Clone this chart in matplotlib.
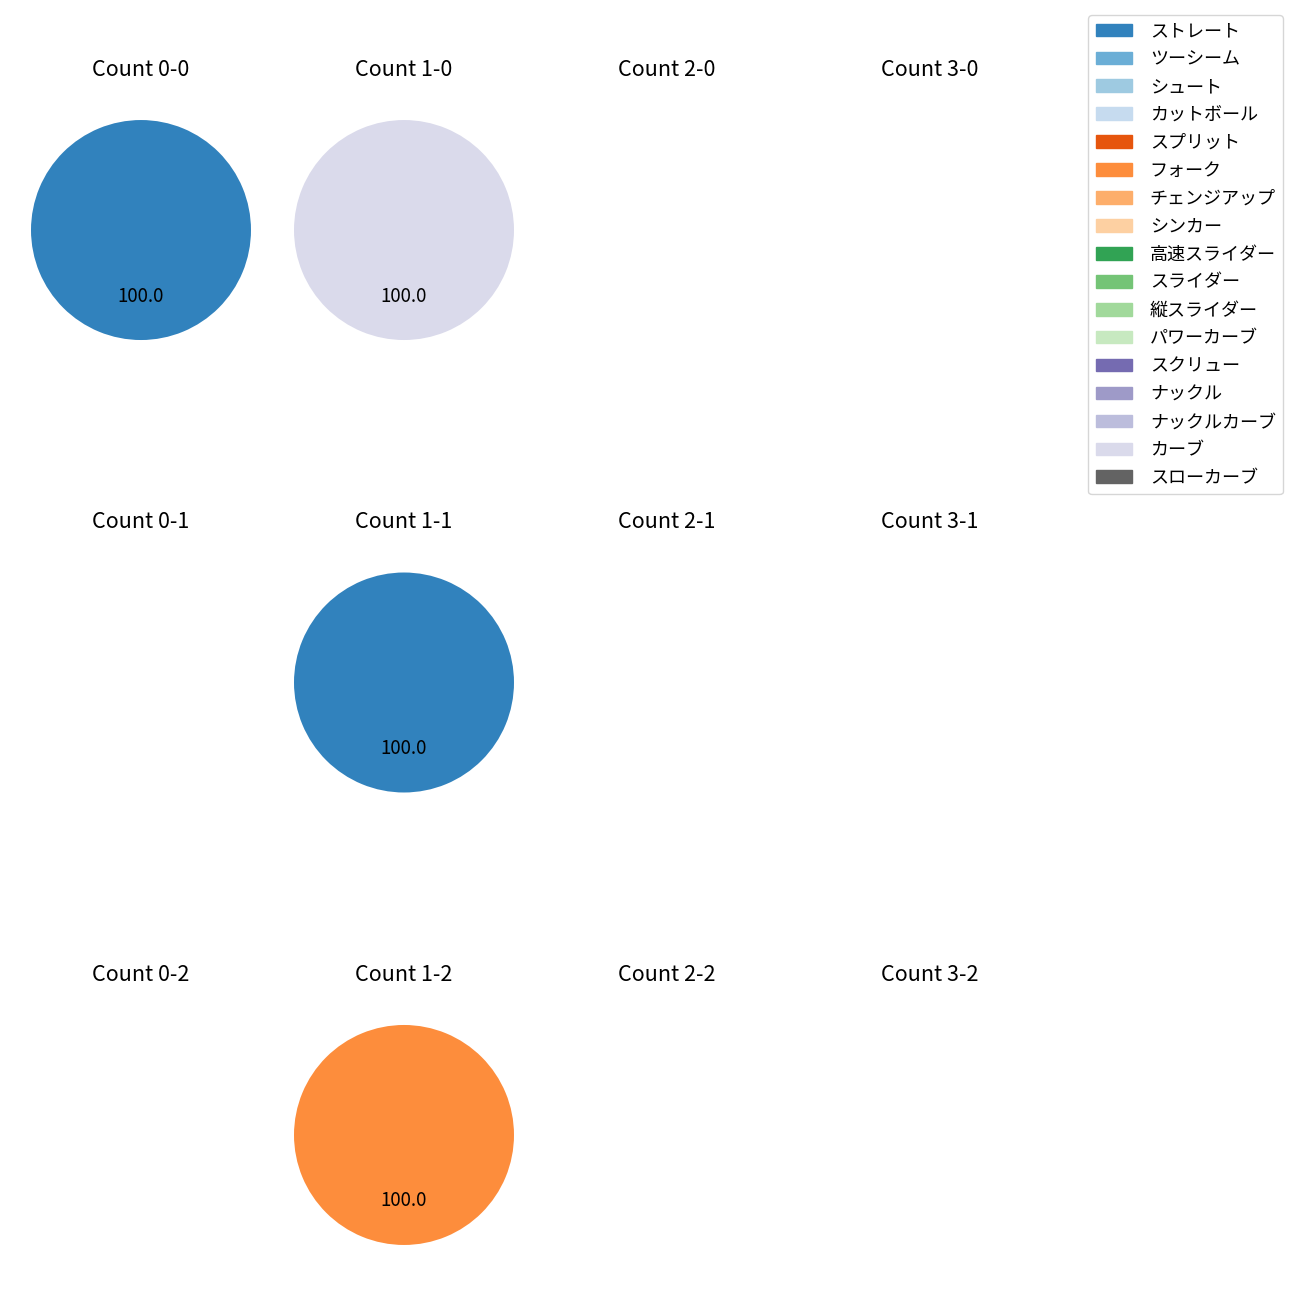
import matplotlib
matplotlib.use("Agg")
import matplotlib.pyplot as plt
from matplotlib.patches import Patch

plt.rcParams['font.family'] = ['Noto Sans CJK JP', 'DejaVu Sans']
plt.rcParams['font.size'] = 13

pitch_types = ['ストレート', 'ツーシーム', 'シュート', 'カットボール', 'スプリット',
               'フォーク', 'チェンジアップ', 'シンカー', '高速スライダー', 'スライダー',
               '縦スライダー', 'パワーカーブ', 'スクリュー', 'ナックル', 'ナックルカーブ',
               'カーブ', 'スローカーブ']
balls = [0, 1, 2, 3]
strikes = [0, 1, 2]

# counts that have pitches: (balls, strikes) -> pitch type shares
pie_counts = [(0, 0), (1, 0), (1, 1), (1, 2)]
pie_types = [['ストレート'], ['カーブ'], ['ストレート'], ['フォーク']]
pie_values = [[100.0], [100.0], [100.0], [100.0]]

cmap = plt.get_cmap('tab20c')
colors = {t: cmap(i) for i, t in enumerate(pitch_types)}

fig, axes = plt.subplots(3, 4, figsize=(13, 13), dpi=100)
fig.subplots_adjust(left=3.5 / 1300, right=1067.5 / 1300,
                    top=1 - 80 / 1300, bottom=1 - 1285 / 1300,
                    wspace=-0.0436, hspace=0.508)

for s in strikes:
    for b in balls:
        ax = axes[s][b]
        ax.set_title('Count %d-%d' % (b, s), fontsize=15.5, pad=12)
        if (b, s) in pie_counts:
            k = pie_counts.index((b, s))
            ax.pie(pie_values[k], colors=[colors[t] for t in pie_types[k]],
                   autopct='%.1f', startangle=90,
                   textprops={'fontsize': 13.5})
        ax.set_aspect('equal')
        ax.set_xlim(-1.25, 1.25)
        ax.set_ylim(-1.25, 1.25)
        ax.axis('off')

handles = [Patch(color=colors[t], label=t) for t in pitch_types]
fig.legend(handles=handles, loc='upper right',
           bbox_to_anchor=(1283 / 1300, 1 - 15 / 1300), borderaxespad=0,
           fontsize=13, labelspacing=0.55, handletextpad=1.0)

fig.savefig('out.png')
